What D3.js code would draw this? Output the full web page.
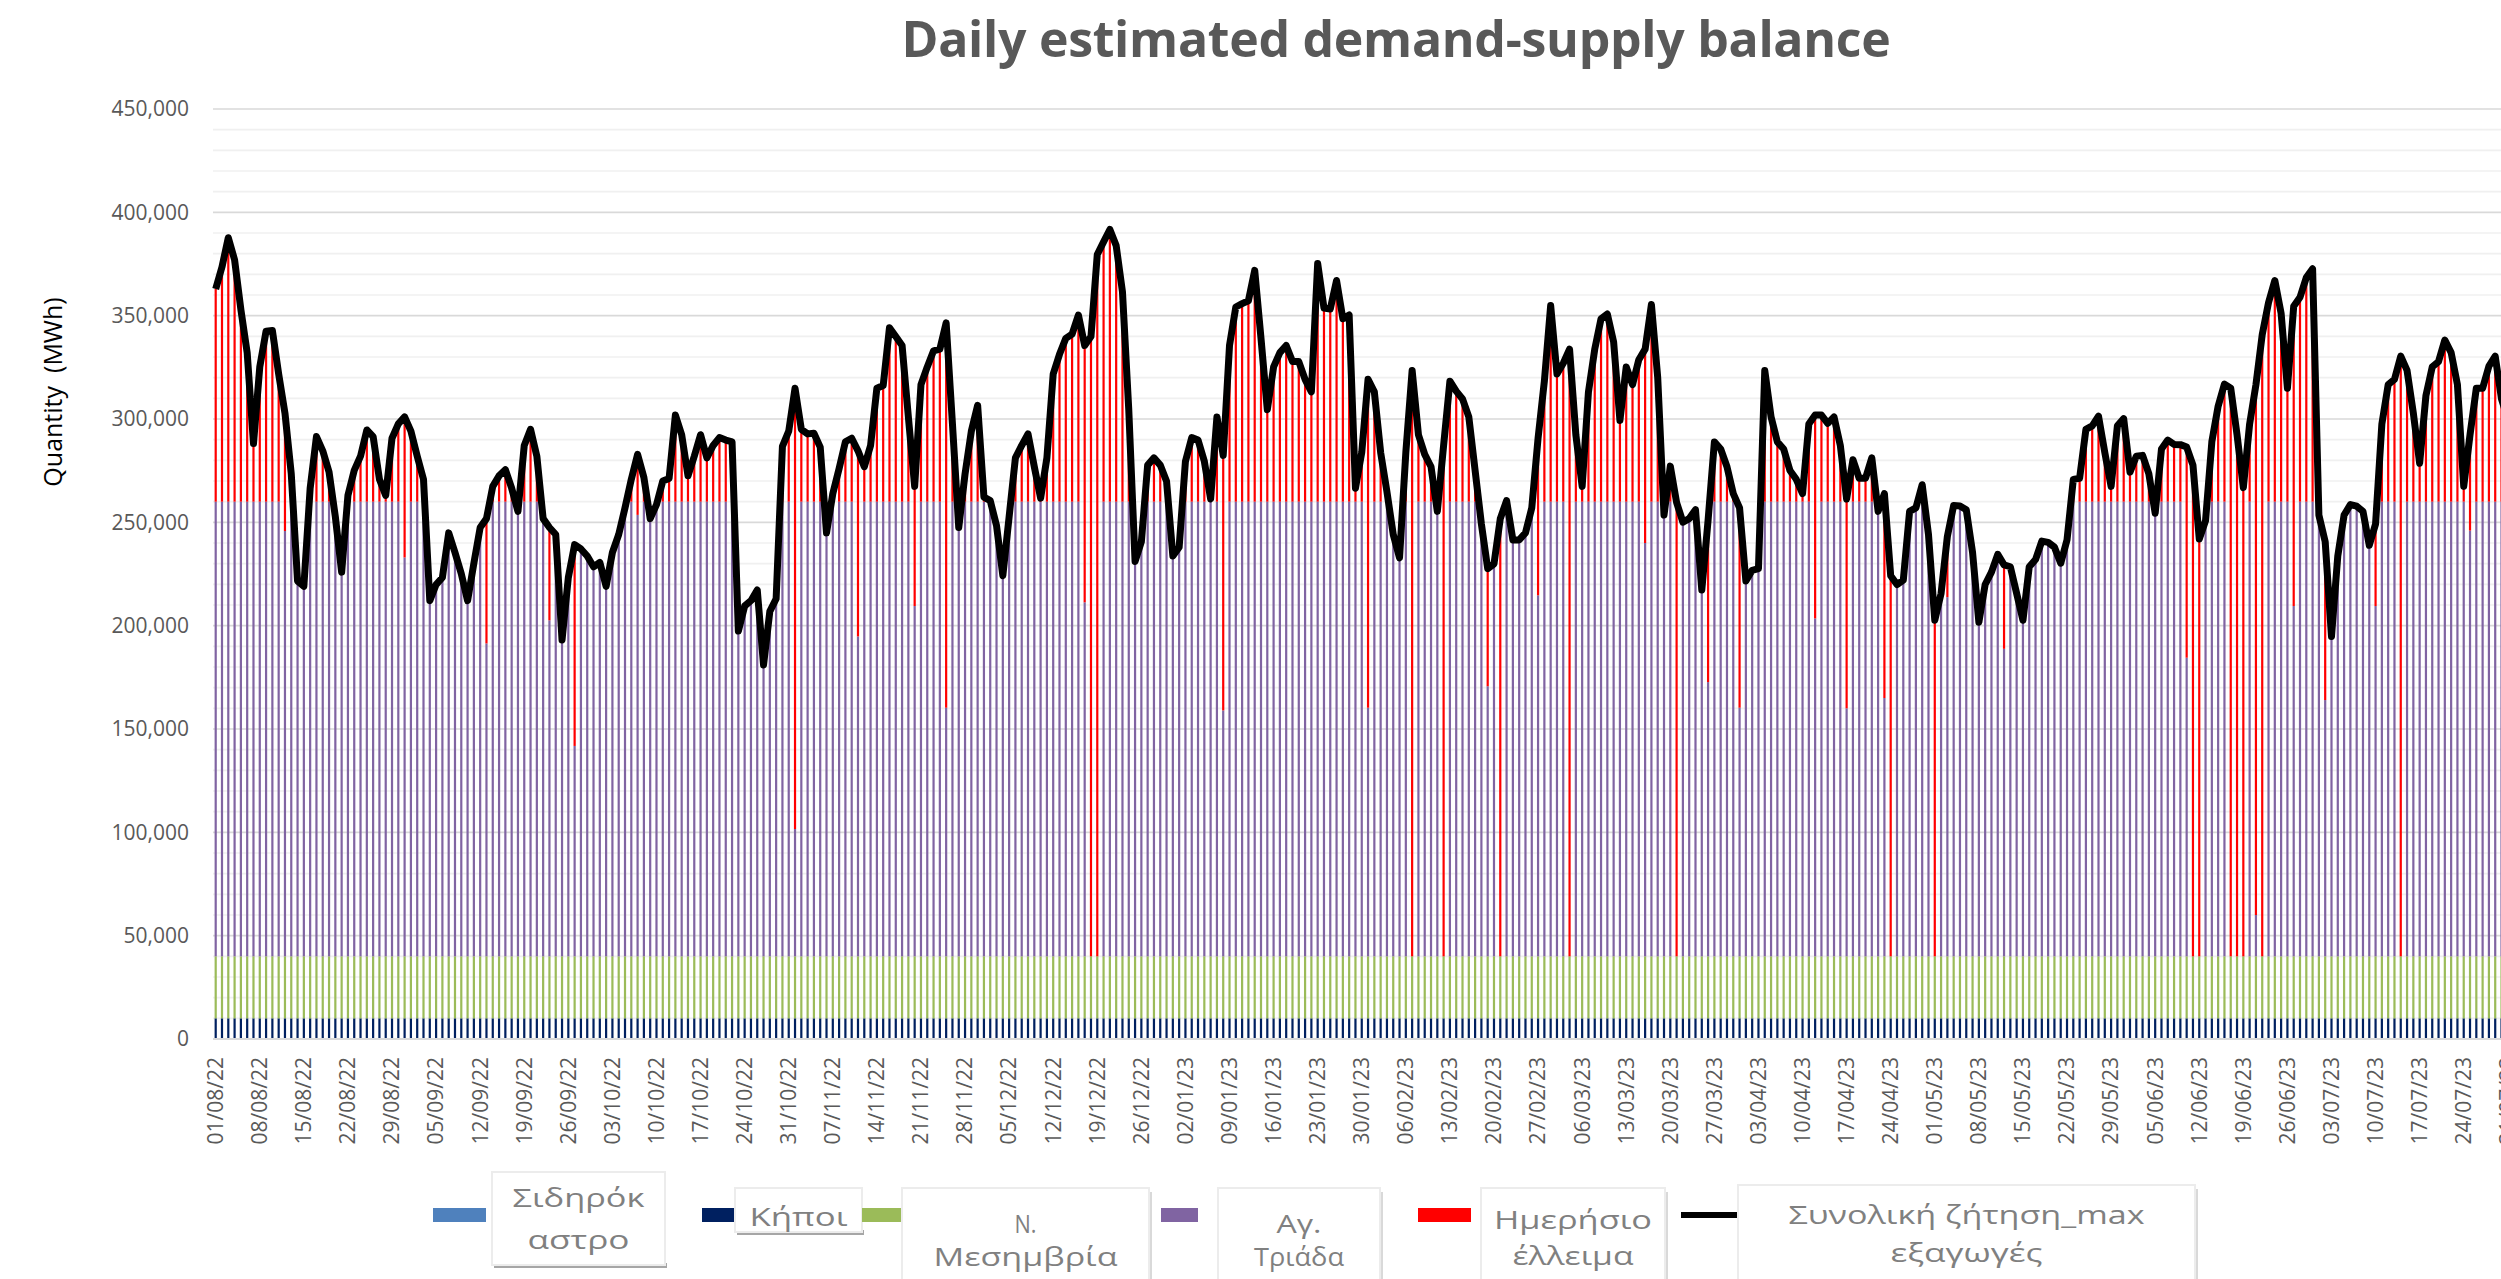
<!DOCTYPE html>
<html>
<head>
<meta charset="utf-8">
<script src="https://cdn.jsdelivr.net/npm/d3@7"></script>
<style>
    body { margin: 0; background: #fff; overflow: hidden; }
    text { font-family: "Open Sans", "DejaVu Sans", sans-serif; }
</style>
</head>
<body>
<script>
const w = 2501; // width
const h = 1279; // height

// first day of the series, one bar per day
const startDay = "2022-08-01";
const dayCount = 365;

// total demand (max exports), MWh per day
const demand = [
    362900, 373600, 387700, 377000, 352900, 332100, 288100, 325200, 342500, 342800,
    321800, 302800, 273400, 221600, 219000, 266500, 291500, 284600, 274300, 252700,
    225900, 263000, 275100, 282000, 294700, 291500, 270800, 263000, 290700, 297600,
    301000, 294100, 282000, 270800, 212100, 219900, 223300, 244900, 235400, 225100,
    212100, 230200, 247500, 251800, 267400, 272500, 275500, 266500, 255300, 287200,
    295000, 282000, 251800, 247500, 244100, 193100, 223300, 239200, 237100, 233700,
    228500, 230600, 219000, 235400, 244100, 257000, 270800, 282900, 271700, 251800,
    258600, 270000, 271200, 301900, 292400, 272500, 282000, 292400, 281200, 287200,
    291000, 289800, 288900, 197400, 209500, 212100, 217300, 181000, 206900, 213000,
    286800, 294100, 314900, 295000, 292800, 293100, 286400, 244900, 263900, 276000,
    289000, 290700, 284600, 276900, 287200, 314900, 316200, 344200, 339900, 335600,
    301000, 267400, 316600, 325200, 333000, 333800, 346500, 297600, 247500, 273400,
    294100, 306600, 262200, 260500, 248400, 224200, 252700, 281200, 287200, 292800,
    276900, 261700, 281200, 321800, 331300, 339000, 341100, 350300, 335600, 339900,
    379600, 385700, 391700, 383900, 361500, 304500, 231100, 240600, 277700, 281200,
    277700, 269900, 233700, 238000, 279500, 291000, 289800, 279500, 261300, 301000,
    282400, 335600, 354200, 355800, 357200, 371900, 339000, 304500, 325200, 332100,
    335600, 327800, 327800, 319200, 313100, 375300, 353700, 353200, 367000, 348500,
    350300, 266500, 283800, 319200, 313100, 283800, 264800, 244100, 232800, 283800,
    323500, 292400, 282900, 276900, 255300, 287200, 318300, 313500, 309700, 301000,
    275100, 249200, 227600, 229900, 251800, 260500, 241500, 241500, 244900, 257000,
    290700, 318300, 354900, 321800, 327000, 333800, 292400, 267400, 313100, 333800,
    348500, 350800, 337300, 299300, 325200, 316600, 328700, 333800, 355400, 320000,
    253500, 277200, 259600, 250100, 251800, 256100, 217300, 251000, 288900, 285500,
    276900, 263900, 257000, 221600, 226800, 227600, 323500, 301000, 288900, 285500,
    275100, 270800, 263900, 297600, 301900, 301900, 297900, 301000, 287200, 261300,
    280300, 271300, 271300, 281200, 255300, 263900, 224200, 219900, 222000, 255300,
    257000, 268200, 244100, 202600, 215600, 243200, 258200, 257900, 256100, 235400,
    201700, 219900, 225900, 234500, 229400, 228500, 215600, 202600, 228500, 232000,
    240900, 240300, 238000, 230200, 241500, 270800, 271300, 295000, 296700, 301400,
    283800, 267400, 296700, 300200, 274300, 282000, 282400, 273400, 254400, 285500,
    289800, 287700, 287600, 286400, 277700, 241900, 250800, 289000, 306200, 316900,
    314900, 292400, 266800, 297600, 316600, 340800, 356300, 367000, 351100, 314900,
    354600, 358900, 368400, 372700, 253500, 240600, 194800, 233700, 253500, 258600,
    257800, 255300, 238900, 249200, 297600, 316600, 319200, 330400, 323500, 302800,
    278600, 311400, 325200, 327800, 338200, 332100, 316600, 267400, 292400, 314900,
    314900, 325600, 330400, 309700, 300000
];

// supply sources, stacked from the bottom, and their usual daily capacity (MWh)
const sources = ["Σιδηρόκαστρο", "Κήποι", "Ν. Μεσημβρία", "Αγ. Τριάδα"];
const sourceCapacity = [0, 10000, 30000, 220000];
const sourceColors = ["#4f81bd", "#002060", "#9bbb59", "#8064a2"];

// days with reduced Αγ. Τριάδα capacity
const outageDates = [
    "2022-08-12", "2022-08-31", "2022-09-13", "2022-09-23", "2022-09-27", "2022-10-07",
    "2022-11-01", "2022-11-11", "2022-11-20", "2022-11-25", "2022-12-17", "2022-12-18",
    "2022-12-19", "2023-01-08", "2023-01-31", "2023-02-07", "2023-02-12", "2023-02-19",
    "2023-02-21", "2023-02-27", "2023-03-04", "2023-03-16", "2023-03-21", "2023-03-26",
    "2023-03-31", "2023-04-12", "2023-04-17", "2023-04-23", "2023-04-24", "2023-05-01",
    "2023-05-03", "2023-05-12", "2023-06-10", "2023-06-11", "2023-06-12", "2023-06-17",
    "2023-06-18", "2023-06-19", "2023-06-21", "2023-06-22", "2023-06-27", "2023-07-02",
    "2023-07-10", "2023-07-14", "2023-07-25"
];
const outageCapacity = [
    205800, 193000, 151400, 162600, 101800, 213600,
    61600, 154800, 169500, 120300, 171300, 0,
    0, 119000, 120300, 0, 0, 130700,
    0, 174700, 0, 200000, 0, 132700,
    120300, 163500, 120000, 125000, 0, 0,
    173800, 148800, 144500, 0, 0, 0,
    0, 0, 20000, 0, 169500, 124000,
    169500, 0, 206000
];

const deficitName = "Ημερήσιο έλλειμα";
const deficitColor = "#ff0000";
const demandName = "Συνολική ζήτηση_max εξαγωγές";

const title = "Daily estimated demand-supply balance";
const yLabel = "Quantity  (MWh)";
const yTickValues = [0, 50000, 100000, 150000, 200000, 250000, 300000, 350000, 400000, 450000];

// legend label lines, in the order of the series
const legendLines = [["Σιδηρόκ", "αστρο"], ["Κήποι"], ["Ν.", "Μεσημβρία"], ["Αγ.", "Τριάδα"], ["Ημερήσιο", "έλλειμα"], ["Συνολική ζήτηση_max", "εξαγωγές"]];

// ---------------------------------------------------------------------------

const parse = d3.timeParse("%Y-%m-%d");
const start = parse(startDay);
const days = d3.timeDay.range(start, d3.timeDay.offset(start, dayCount));
const outageMap = new Map(outageDates.map((d, i) => [d, outageCapacity[i]]));
const fmtKey = d3.timeFormat("%Y-%m-%d");

// split each day's demand over the sources, what is left is the deficit
let dataset = days.map((day, i) => {
    let row = { date: day, demand: demand[i] };
    let left = demand[i];
    sources.forEach((s, k) => {
        let cap = sourceCapacity[k];
        if (k === 3 && outageMap.has(fmtKey(day))) cap = outageMap.get(fmtKey(day));
        let v = Math.min(left, cap);
        row[s] = v;
        left -= v;
    });
    row[deficitName] = left;
    return row;
});

const keys = sources.concat([deficitName]);
const colors = sourceColors.concat([deficitColor]);

//Create SVG element
let svg = d3.select("body")
    .append("svg")
    .attr('width', w)
    .attr('height', h);

const left = 213;
const step = 6.297;

// scale x
let x = d3.scaleBand()
    .domain(days)
    .range([left - 0.45, left - 0.45 + step * dayCount])
    .paddingInner(0.65)
    .paddingOuter(0.325);

// scale y
let y = d3.scaleLinear()
    .domain([0, 450000])
    .range([1039, 109]);

// gridlines
let grid = svg.append("g").attr('class', 'grid');
grid.selectAll('line.minor')
    .data(d3.range(10000, 450001, 10000).filter(v => v % 50000 !== 0))
    .enter()
    .append('line')
    .attr('x1', left)
    .attr('x2', w)
    .attr('y1', (d) => y(d))
    .attr('y2', (d) => y(d))
    .attr('stroke', '#f0f0f0')
    .attr('stroke-width', 1.6);
grid.selectAll('line.major')
    .data(yTickValues.slice(1))
    .enter()
    .append('line')
    .attr('x1', left)
    .attr('x2', w)
    .attr('y1', (d) => y(d))
    .attr('y2', (d) => y(d))
    .attr('stroke', '#d9d9d9')
    .attr('stroke-width', 1.6);

// stacked bars
let stacked = d3.stack().keys(keys)(dataset);
svg.append("g")
    .selectAll('g')
    .data(stacked)
    .enter()
    .append('g')
    .attr('fill', (d, i) => colors[i])
    .selectAll('rect')
    .data((d) => d.filter(p => p[1] - p[0] > 0))
    .enter()
    .append('rect')
    .attr('x', (d) => x(d.data.date))
    .attr('width', x.bandwidth())
    .attr('y', (d) => y(d[1]))
    .attr('height', (d) => y(d[0]) - y(d[1]));

// x axis baseline
svg.append('line')
    .attr('x1', left)
    .attr('x2', w)
    .attr('y1', y(0))
    .attr('y2', y(0))
    .attr('stroke', '#d9d9d9')
    .attr('stroke-width', 2);

// demand line
let line = d3.line()
    .x((d) => x(d.date) + x.bandwidth() / 2)
    .y((d) => y(d.demand));
svg.append('path')
    .datum(dataset)
    .attr('fill', 'none')
    .attr('stroke', '#000')
    .attr('stroke-width', 7)
    .attr('stroke-linejoin', 'round')
    .attr('d', line);

// y axis
let axisY = d3.axisLeft(y)
    .tickValues(yTickValues)
    .tickSize(0)
    .tickPadding(24)
    .tickFormat(d3.format(","));
let gY = svg.append("g")
    .attr('transform', `translate(${left}, 0)`)
    .call(axisY);
gY.select('.domain').remove();
gY.selectAll('text')
    .attr('fill', '#595959')
    .style('font-size', '21px')
    .style('font-family', '"Open Sans", sans-serif');

// x axis, one label a week
let axisX = d3.axisBottom(x)
    .tickValues(days.filter((d, i) => i % 7 === 0))
    .tickSize(0)
    .tickFormat(d3.timeFormat("%d/%m/%y"));
let gX = svg.append("g")
    .attr('transform', `translate(0,${y(0)})`)
    .call(axisX);
gX.select('.domain').remove();
gX.selectAll('text')
    .attr('transform', 'rotate(-90)')
    .attr('x', -18)
    .attr('y', 0)
    .attr('dy', '0.35em')
    .attr('text-anchor', 'end')
    .attr('fill', '#595959')
    .style('font-size', '21px')
    .style('font-family', '"Open Sans", sans-serif');

// y axis label
svg.append("text")
    .attr("text-anchor", "middle")
    .attr("transform", "translate(62, 392) rotate(-90)")
    .style("white-space", "pre")
    .style("font-size", "25px")
    .attr("fill", "#000")
    .text(yLabel);

// title
let titleText = svg.append("text")
    .attr("text-anchor", "middle")
    .attr("x", 1396)
    .attr("y", 57)
    .style("font-size", "50px")
    .style("font-weight", "bold")
    .attr("fill", "#595959")
    .text(title);
let tLen = titleText.node().getComputedTextLength();
titleText.style("letter-spacing", `${(989 - tLen) / title.length}px`);

// legend
const legendSwatch = [[433, 486], [702, 736], [862, 902], [1161, 1198], [1418, 1471], [1681, 1738]];
const legendBox = [[492, 1172, 665, 1265], [735, 1188, 862, 1232], [902, 1188, 1149, 1300], [1218, 1188, 1380, 1300], [1481, 1188, 1665, 1300], [1738, 1185, 2195, 1300]];
const legendBase = [[1207, 1249], [1226], [1233, 1266], [1233, 1266], [1229, 1265], [1224, 1262]];
const legendWidth = [[132, 102], [98], [22, 184], [45, 90], [158, 121], [356, 152]];
const legendColors = colors.concat(["#000"]);

let legend = svg.append("g").attr('class', 'legend');
legendLines.forEach((lines, i) => {
    let b = legendBox[i];
    let sw = legendSwatch[i];
    if (i === 5) {
        legend.append('line')
            .attr('x1', sw[0]).attr('x2', sw[1])
            .attr('y1', 1215).attr('y2', 1215)
            .attr('stroke', '#000')
            .attr('stroke-width', 6);
    } else {
        legend.append('rect')
            .attr('x', sw[0]).attr('y', 1208)
            .attr('width', sw[1] - sw[0]).attr('height', 14)
            .attr('fill', legendColors[i]);
    }
    if (b[3] < 1290) {
        // drop shadow under the small boxes
        legend.append('rect')
            .attr('x', b[0] + 2).attr('y', b[3] - 2)
            .attr('width', b[2] - b[0]).attr('height', 5)
            .attr('fill', '#a6a6a6');
    } else {
        legend.append('rect')
            .attr('x', b[2] - 1).attr('y', b[1] + 4)
            .attr('width', 4).attr('height', 100)
            .attr('fill', '#d9d9d9');
    }
    legend.append('rect')
        .attr('x', b[0]).attr('y', b[1])
        .attr('width', b[2] - b[0]).attr('height', b[3] - b[1])
        .attr('fill', '#fff')
        .attr('stroke', '#ececec')
        .attr('stroke-width', 2);
    lines.forEach((t, j) => {
        legend.append('text')
            .attr('x', (b[0] + b[2]) / 2)
            .attr('y', legendBase[i][j])
            .attr('text-anchor', 'middle')
            .attr('textLength', legendWidth[i][j])
            .attr('lengthAdjust', 'spacingAndGlyphs')
            .style('font-size', '26px')
            .style('white-space', 'pre')
            .attr('fill', '#808080')
            .text(t);
    });
});
</script>
</body>
</html>
